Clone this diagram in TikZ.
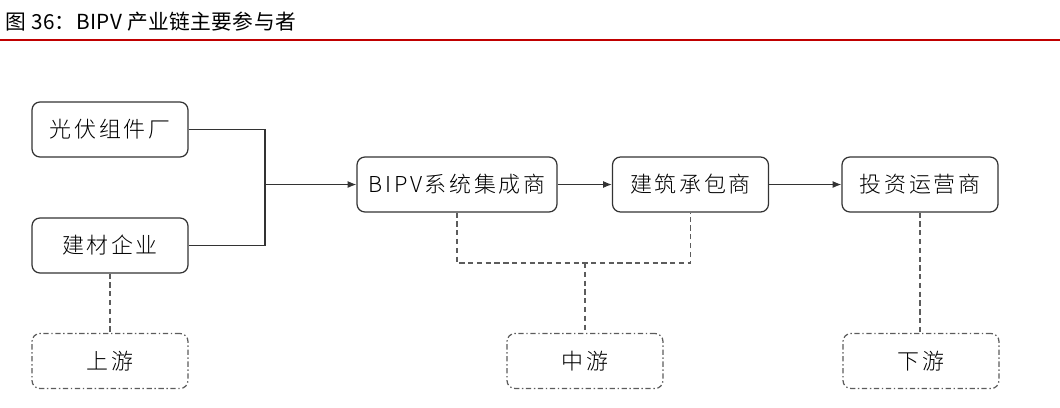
\documentclass[tikz,border=0pt]{standalone}
\usepackage{fontspec}
\setmainfont{Noto Sans CJK SC}
\newfontfamily\boxfont[LetterSpace=12]{Noto Sans CJK SC Light}
\newfontfamily\titlefont[LetterSpace=2]{Noto Sans CJK SC}
\usetikzlibrary{arrows.meta}
\definecolor{titlered}{HTML}{C00000}
\definecolor{boxline}{HTML}{333333}
\begin{document}
\begin{tikzpicture}[x=0.02cm, y=-0.02cm]
        \tikzstyle{stage}=[draw=boxline, rounded corners=4.5pt, line width=0.7pt,
            minimum width=3.12cm, minimum height=1.1cm, inner sep=0pt,
            font=\boxfont\fontsize{12.5}{14}\selectfont]
        \tikzstyle{level}=[stage, draw=boxline!80,
            dash pattern=on 3pt off 1.5pt on 0.8pt off 1.5pt]
        \tikzstyle{link}=[draw=boxline, line width=0.7pt]
        \tikzstyle{dotlink}=[draw=boxline!80, line width=0.7pt,
            dash pattern=on 3pt off 2pt]
        \useasboundingbox (0, 0) rectangle (1060, 407);

        % title
        \node[anchor=west, inner sep=0pt, font=\titlefont\fontsize{11.8}{14}\selectfont] (title) at (5, 22)
            {图 36：BIPV 产业链主要参与者};
        \draw[titlered, line width=0.9pt] (0, 40) -- (1060, 40);

        \node[stage] (pv) at (110, 129.5) {光伏组件厂};
        \node[stage] (jc) at (110, 245.5) {建材企业};
        \node[stage, minimum width=4cm] (bipv) at (457, 184.5) {BIPV系统集成商};
        \node[stage] (jz) at (690.5, 184.5) {建筑承包商};
        \node[stage] (tz) at (920, 184.5) {投资运营商};

        \node[level] (sy) at (110, 361) {上游};
        \node[level] (zy) at (585, 361) {中游};
        \node[level] (xy) at (921, 361) {下游};

        \coordinate (J) at (265, 184.5);
        \coordinate (M) at (585, 263);

        \draw[link] (pv.east) -| (J);
        \draw[link] (jc.east) -| (J);
        \draw[link, -{Latex[length=5pt, width=4pt]}] (J) -- (bipv);
        \draw[link, -{Latex[length=5pt, width=4pt]}] (bipv) -- (jz);
        \draw[link, -{Latex[length=5pt, width=4pt]}] (jz) -- (tz);

        \draw[dotlink] (bipv.south) |- (M) -| (jz.south);
        \draw[dotlink] (M) -- (zy.north);
        \draw[dotlink] (jc.south) -- (sy.north);
        \draw[dotlink] (tz.south) -- (tz.south |- xy.north);

    \end{tikzpicture}
\end{document}
